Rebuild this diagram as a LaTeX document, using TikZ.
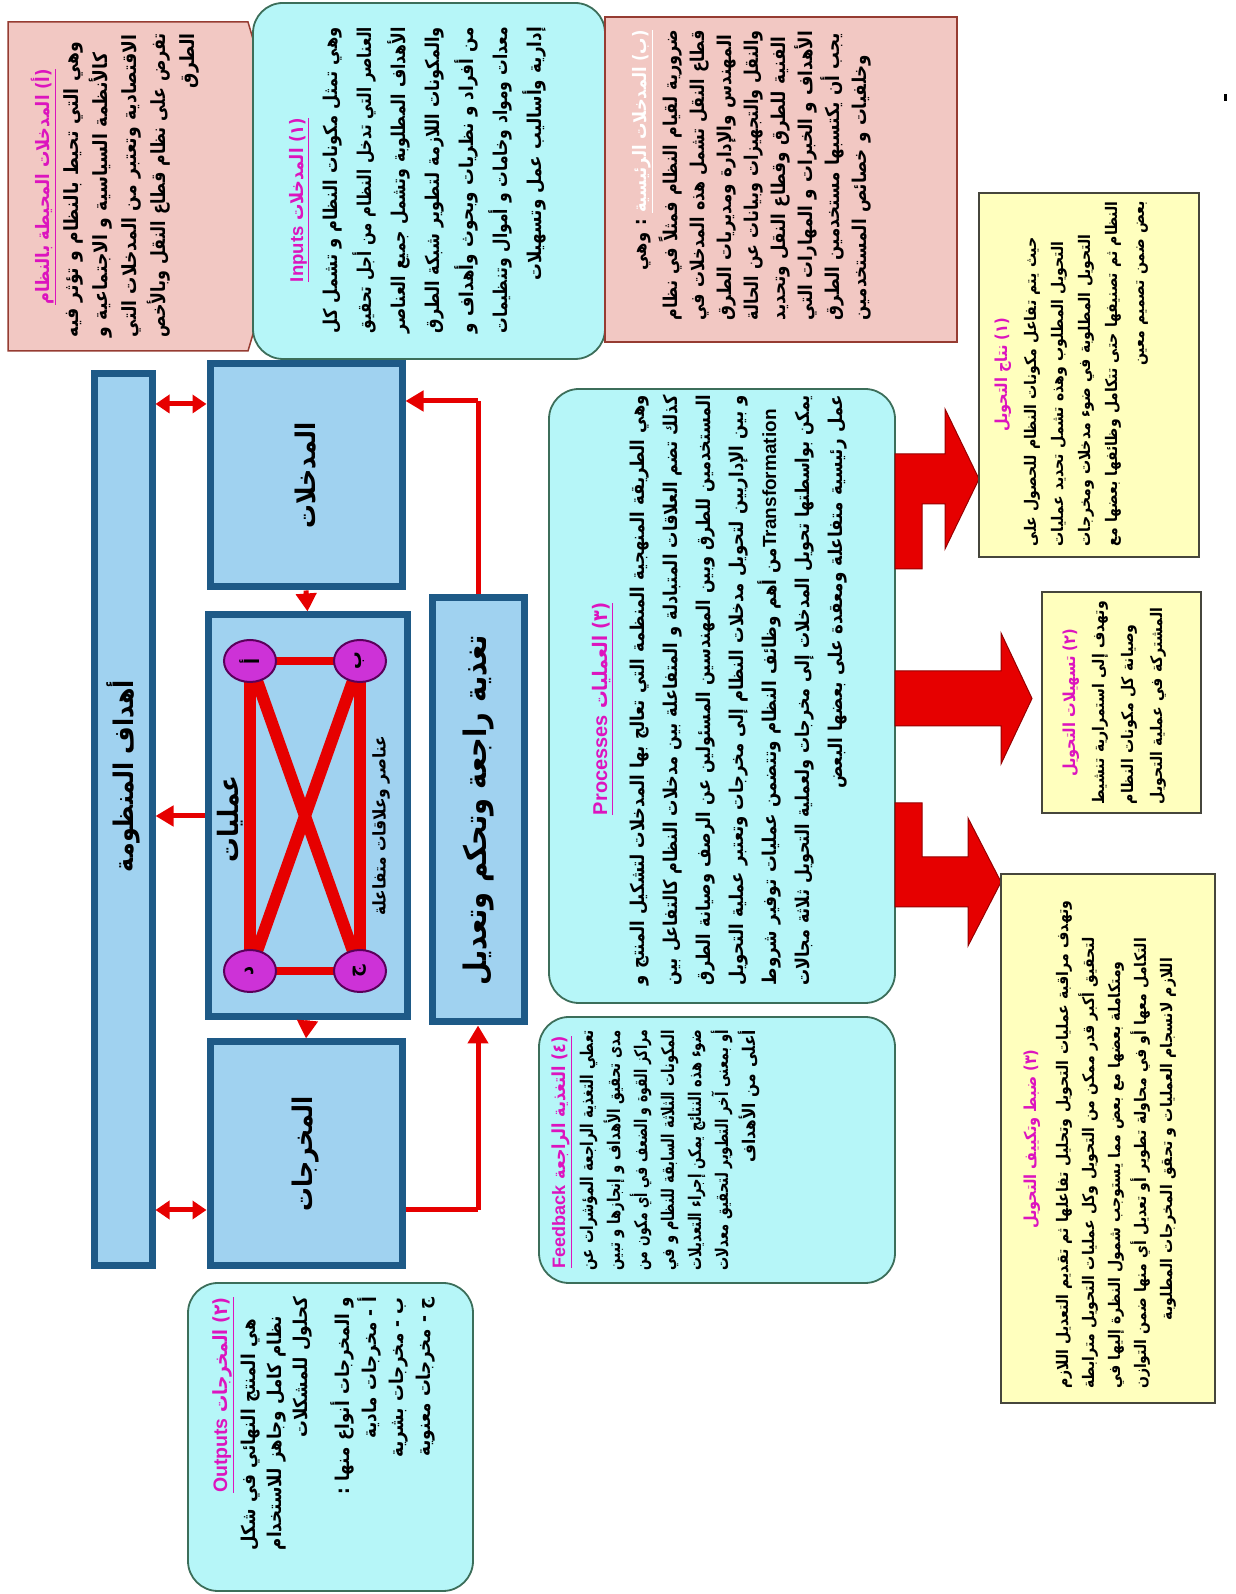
\documentclass[tikz,border=0pt]{standalone}
\usepackage{fontspec}
\usepackage{graphicx}
\setmainfont{Liberation Sans}
\newfontfamily\ar[Script=Arabic,FakeStretch=0.88]{DejaVu Sans}
\newfontfamily\lat{Liberation Sans}
\TeXXeTstate=1
\usetikzlibrary{arrows.meta,shapes.geometric}
\definecolor{bluefill}{RGB}{160,210,240}
\definecolor{blueedge}{RGB}{30,90,135}
\definecolor{cyanfill}{RGB}{182,246,248}
\definecolor{cyanedge}{RGB}{60,110,90}
\definecolor{pinkfill}{RGB}{242,200,195}
\definecolor{pinkedge}{RGB}{150,60,50}
\definecolor{yelfill}{RGB}{255,255,190}
\definecolor{yeledge}{RGB}{70,70,60}
\definecolor{arrred}{RGB}{230,0,0}
\definecolor{arrdark}{RGB}{150,0,0}
\definecolor{tmag}{RGB}{220,20,190}
\definecolor{circfill}{RGB}{205,50,215}
\definecolor{circedge}{RGB}{90,0,90}
\newsavebox\lnbox
\newcommand\RL[1]{\beginR #1\endR}
\newcommand\LT[1]{\beginL{\lat #1}\endL}
\newcommand\TT[1]{{\color{tmag}\underline{\hbox{#1}}}}
\newcommand\FL[1]{\leavevmode\sbox\lnbox{\beginR #1\endR}%
  \ifdim\wd\lnbox>\hsize\resizebox{\hsize}{\height}{\usebox\lnbox}%
  \else\hbox to\hsize{\beginR #1\endR}\fi}
\tikzset{
  bluebox/.style={draw=blueedge, line width=7pt, fill=bluefill, inner sep=0pt,
    font=\ar\bfseries\fontsize{27}{29}\selectfont},
  cyanbox/.style={draw=cyanedge, line width=1.8pt, fill=cyanfill, rounded corners=30pt},
  pinkbox/.style={draw=pinkedge, line width=1.5pt, fill=pinkfill},
  yelbox/.style={draw=yeledge, line width=2.5pt, fill=yelfill},
  ttl/.style={inner sep=0pt, anchor=base, font=\ar\bfseries\fontsize{18.5}{20}\selectfont},
  ttlr/.style={ttl, anchor=base east},
  body/.style={inner sep=0pt, align=right, anchor=base east},
  redln/.style={draw=arrred, line width=5pt},
  redarr/.style={redln, -{Triangle[length=18pt,width=20pt]}},
  dblarr/.style={redln, {Triangle[length=14pt,width=18pt]}-{Triangle[length=14pt,width=18pt]}},
  bigarr/.style={fill=arrred, draw=arrdark, line width=1pt},
  xline/.style={draw=arrred, line width=12pt},
  xthin/.style={draw=arrred, line width=8pt},
  circ/.style={ellipse, fill=circfill, draw=circedge, line width=2pt, minimum width=42pt,
    minimum height=52pt, inner sep=0pt, font=\ar\bfseries\fontsize{20}{22}\selectfont},
}
\begin{document}
\begin{tikzpicture}[x=1pt,y=-1pt]
\path[use as bounding box, fill=white] (0,0) rectangle (1235,-1594);
\begin{scope}[rotate=90, transform shape]
% ---------- top-right row (inputs) ----------
\filldraw[pinkbox] (1243,8) -- (1572,8) -- (1572,248) -- (1555,253) -- (1260,253) -- (1243,248) -- cycle;
\node[ttl] (pAh) at (1407,49) {\TT{\RL{(أ) المدخلات المحيطة بالنظام}}};
\node[body, text width=304pt, font=\ar\bfseries\fontsize{19.5}{29}\selectfont] (pAt) at (1561,78) {%
\FL{وهي التي تحيط بالنظام و تؤثر فيه}\\
\FL{كالأنظمة السياسية و الاجتماعية و}\\
\FL{الاقتصادية وتعتبر من المدخلات التي}\\
\FL{تفرض على نظام قطاع النقل وبالأخص}\\
\RL{الطرق}};

\node[cyanbox, minimum width=356pt, minimum height=352pt] (inpbox) at (1413,429) {};
\node[ttl] (inph) at (1394,303) {\TT{\RL{(١) المدخلات \LT{Inputs}}}};
\node[body, text width=306pt, font=\ar\bfseries\fontsize{19}{34}\selectfont] (inpt) at (1567,337) {%
\FL{وهي تمثل مكونات النظام و تشمل كل}\\
\FL{العناصر التي تدخل النظام من أجل تحقيق}\\
\FL{الأهداف المطلوبة وتشمل جميع العناصر}\\
\FL{والمكونات اللازمة لتطوير شبكة الطرق}\\
\FL{من أفراد و نظريات وبحوث وأهداف و}\\
\FL{معدات ومواد وخامات و أموال وتنظيمات}\\
\RL{إدارية وأساليب عمل وتسهيلات}};

\node[pinkbox, minimum width=325pt, minimum height=352pt] (pBbox) at (1414.5,781) {};
\node[ttlr] (pBh) at (1564,646) {\RL{\TT{\RL{(ب) المدخلات الرئيسية}} : وهي}};
\node[body, text width=290pt, font=\ar\bfseries\fontsize{19}{27}\selectfont] (pBt) at (1564,677) {%
\FL{ضرورية لقيام النظام فمثلاً في نظام}\\
\FL{قطاع النقل تشمل هذه المدخلات في}\\
\FL{المهندس والإدارة ومديريات الطرق}\\
\FL{والنقل والتجهيزات وبيانات عن الحالة}\\
\FL{الفنية للطرق وقطاع النقل وتحديد}\\
\FL{الأهداف و الخبرات و المهارات التي}\\
\FL{يجب أن يكتسبها مستخدمين الطرق}\\
\FL{وخلفيات و خصائص المستخدمين}};

% ---------- system block ----------
\node[bluebox, minimum width=892pt, minimum height=58pt] (bar) at (774,123) {};
\node[inner sep=0pt, font=\ar\bfseries\fontsize{27}{29}\selectfont] (barlbl) at (818,123) {\RL{أهداف المنظومة}};
\node[bluebox, minimum width=223pt, minimum height=192pt] (inbox) at (1118.5,306) {\RL{المدخلات}};
\node[bluebox, minimum width=402pt, minimum height=199pt] (procbox) at (778,307.5) {};
\node[bluebox, minimum width=224pt, minimum height=192pt] (outbox) at (440,306) {\RL{المخرجات}};
\node[bluebox, minimum width=424pt, minimum height=92pt, font=\ar\bfseries\fontsize{31}{33}\selectfont] (fbbar) at (784,478) {\RL{تغذية راجعة وتحكم وتعديل}};

\coordinate (cAp) at (933,250);
\coordinate (cBp) at (933,360);
\coordinate (cCp) at (623,360);
\coordinate (cDp) at (623,250);
\draw[xline] (cAp) -- (cDp);
\draw[xline] (cBp) -- (cCp);
\draw[xline] (cAp) -- (cCp);
\draw[xline] (cBp) -- (cDp);
\draw[xthin] (cAp) -- (cBp);
\draw[xthin] (cDp) -- (cCp);
\node[circ] (cA) at (cAp) {\RL{أ}};
\node[circ] (cB) at (cBp) {\RL{ب}};
\node[circ] (cC) at (cCp) {\RL{ج}};
\node[circ] (cD) at (cDp) {\RL{د}};
\node[inner sep=0pt, font=\ar\bfseries\fontsize{28}{30}\selectfont] (lblA) at (775,230) {\RL{عمليات}};
\node[inner sep=0pt, font=\ar\bfseries\fontsize{17.5}{20}\selectfont] (lblB) at (768,381) {\RL{عناصر وعلاقات متفاعلة}};

\coordinate (dA) at (1190,0);
\coordinate (dB) at (384,0);
\coordinate (dF) at (1193,0);
\draw[dblarr] (bar.south -| dA) -- (inbox.north -| dA);
\draw[dblarr] (bar.south -| dB) -- (outbox.north -| dB);
\draw[redarr] (procbox.north) -- (procbox.north |- bar.south);
\draw[redarr] (inbox.west) -- (procbox.east);
\draw[redarr] (procbox.west) -- (outbox.east);
\draw[redln] (outbox.south -| dB) -- (dB |- fbbar.west);
\draw[redarr] (dB |- fbbar.west) -- (fbbar.west);
\draw[redln] (fbbar.east) -- (fbbar.east -| dF);
\draw[redarr] (fbbar.east -| dF) -- (inbox.south -| dF);

% ---------- processes ----------
\node[cyanbox, minimum width=614pt, minimum height=346pt] (prcbox) at (898,722) {};
\node[ttl, font=\ar\bfseries\fontsize{20}{22}\selectfont] (prch) at (885,607) {\TT{\RL{(٣) العمليات \LT{Processes}}}};
\node[body, text width=590pt, font=\ar\bfseries\fontsize{19}{33}\selectfont] (prct) at (1199,644) {%
\FL{وهي الطريقة المنهجية المنظمة التي تعالج بها المدخلات لتشكيل المنتج و}\\
\FL{كذلك تضم العلاقات المتبادلة و المتفاعلة بين مدخلات النظام كالتفاعل بين}\\
\FL{المستخدمين للطرق وبين المهندسين المسئولين عن الرصف وصيانة الطرق}\\
\FL{و بين الإداريين لتحويل مدخلات النظام إلى مخرجات وتعتبر عملية التحويل}\\
\FL{\LT{Transformation}من أهم وظائف النظام وتتضمن عمليات توفير شروط}\\
\FL{يمكن بواسطتها تحويل المدخلات إلى مخرجات ولعملية التحويل ثلاثة مجالات}\\
\RL{عمل رئيسية متفاعلة ومعقدة على بعضها البعض}};

% ---------- feedback ----------
\node[cyanbox, minimum width=266pt, minimum height=356pt] (fbbox) at (444,717) {};
\node[ttlr, font=\ar\bfseries\fontsize{18}{20}\selectfont] (fbh) at (558,565) {\TT{\RL{(٤) التغذية الراجعة \LT{Feedback}}}};
\node[body, text width=240pt, font=\ar\bfseries\fontsize{17.5}{27}\selectfont] (fbt) at (564,593) {%
\FL{تعطي التغذية الراجعة المؤشرات عن}\\
\FL{مدى تحقيق الأهداف و إنجازها و تبين}\\
\FL{مراكز القوة و الضعف في أي مكون من}\\
\FL{المكونات الثلاثة السابقة للنظام و في}\\
\FL{ضوء هذه النتائج يمكن إجراء التعديلات}\\
\FL{أو بمعنى آخر التطوير لتحقيق معدلات}\\
\RL{أعلى من الأهداف}};

% ---------- outputs ----------
\node[cyanbox, minimum width=308pt, minimum height=285pt] (otbox) at (157,330.5) {};
\node[ttlr, font=\ar\bfseries\fontsize{19.5}{22}\selectfont] (oth) at (297,227) {\TT{\RL{(٢) المخرجات \LT{Outputs}}}};
\node[body, text width=253pt, font=\ar\bfseries\fontsize{19}{26}\selectfont] (ott) at (297,255) {%
\FL{هي المنتج النهائي في شكل}\\
\FL{نظام كامل وجاهز للاستخدام}\\
\RL{كحلول للمشكلات}};
\node[body, text width=253pt, font=\ar\bfseries\fontsize{19}{27}\selectfont] (ott2) at (297,349) {%
\RL{و المخرجات أنواع منها :}\\
\RL{أ - مخرجات مادية}\\
\RL{ب - مخرجات بشرية}\\
\RL{ج - مخرجات معنوية}};

% ---------- transformation results ----------
\filldraw[bigarr] (1025,895) -- (1140,895) -- (1140,945) -- (1185,945) -- (1115,979) -- (1045,945) -- (1090,945) -- (1090,922) -- (1025,922) -- cycle;
\filldraw[bigarr] (868,895) -- (923,895) -- (923,1001) -- (961,1001) -- (895.5,1032) -- (830,1001) -- (868,1001) -- cycle;
\filldraw[bigarr] (791,895) -- (687,895) -- (687,968) -- (648,968) -- (712,1001) -- (776,968) -- (737,968) -- (737,922) -- (791,922) -- cycle;

\node[yelbox, minimum width=364pt, minimum height=220pt] (y1) at (1219,1089) {};
\node[ttl, font=\ar\bfseries\fontsize{16.5}{18}\selectfont, text=tmag] (y1h) at (1219,1007) {\RL{(١) نتاج التحويل}};
\node[body, text width=345pt, font=\ar\bfseries\fontsize{16}{27}\selectfont] (y1t) at (1393,1036) {%
\FL{حيث يتم تفاعل مكونات النظام للحصول على}\\
\FL{التحويل المطلوب وهذه تشمل تحديد عمليات}\\
\FL{التحويل المطلوبة في ضوء مدخلات ومخرجات}\\
\FL{النظام ثم تصنيفها حتى تتكامل وظائفها بعضها مع}\\
\RL{بعض ضمن تصميم معين}};

\node[yelbox, minimum width=221pt, minimum height=159pt] (y2) at (891.5,1121.5) {};
\node[ttl, font=\ar\bfseries\fontsize{16.5}{18}\selectfont, text=tmag] (y2h) at (891,1075) {\RL{(٢) تسهيلات التحويل}};
\node[body, text width=203pt, font=\ar\bfseries\fontsize{16}{29}\selectfont] (y2t) at (993,1104) {%
\FL{وتهدف إلى استمرارية تنشيط}\\
\FL{وصيانة كل مكونات النظام}\\
\FL{المشتركة في عملية التحويل}};

\node[yelbox, minimum width=529pt, minimum height=214pt] (y3) at (455.5,1108) {};
\node[ttl, font=\ar\bfseries\fontsize{16.5}{18}\selectfont, text=tmag] (y3h) at (455,1036) {\RL{(٣) ضبط وتكييف التحويل}};
\node[body, anchor=base, align=center, text width=500pt, font=\ar\bfseries\fontsize{16}{26}\selectfont] (y3t) at (455,1068) {%
\FL{وتهدف مراقبة عمليات التحويل وتحليل تفاعلها ثم تقديم التعديل اللازم}\\
\FL{لتحقيق أكبر قدر ممكن من التحويل وكل عمليات التحويل مترابطة}\\
\FL{ومتكاملة بعضها مع بعض مما يستوجب شمول النظرة إليها في}\\
\FL{التكامل معها أو في محاولة تطوير أو تعديل أي منها ضمن التوازن}\\
\RL{اللازم لانسجام العمليات و تحقق المخرجات المطلوبة}};

\fill[black] (1493,1223.5) rectangle (1500,1226.5);
\end{scope}
\end{tikzpicture}
\end{document}
